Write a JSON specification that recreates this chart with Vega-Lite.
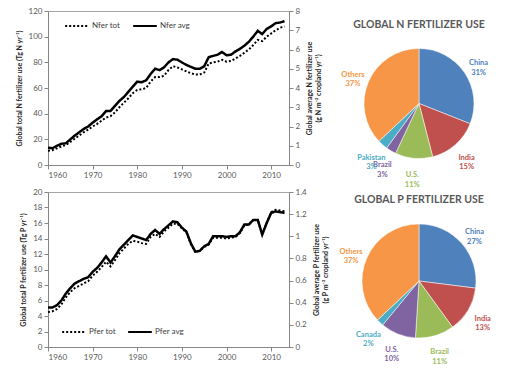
{
  "$schema": "https://vega.github.io/schema/vega-lite/v6.json",
  "padding": {"left": 14, "top": 6, "right": 0, "bottom": 0},
  "background": "white",
  "config": {
    "font": "Lato",
    "view": {"stroke": null},
    "axis": {"labelFont": "Lato", "labelFontSize": 8, "labelColor": "#595959", "titleFont": "Lato", "titleFontSize": 7, "titleFontWeight": "bold", "titleColor": "#262626", "domainColor": "#868686", "tickColor": "#868686", "tickSize": 4, "grid": false, "labelPadding": 2, "titleLineHeight": 9},
    "legend": {"labelFont": "Lato", "labelFontSize": 8, "labelColor": "#404040", "symbolType": "stroke", "symbolStrokeColor": "black", "symbolStrokeWidth": 2, "symbolSize": 560, "columnPadding": 8, "labelOffset": 2},
    "title": {"font": "Lato", "fontSize": 10.5, "fontWeight": "bold", "color": "#595959", "baseline": "bottom"}
  },
  "datasets": {
    "series": [
      {"year": 1960, "n_tot": 11, "n_avg": 0.90, "p_tot": 4.5, "p_avg": 0.357},
      {"year": 1961, "n_tot": 11.5, "n_avg": 0.87, "p_tot": 4.6, "p_avg": 0.357},
      {"year": 1962, "n_tot": 13, "n_avg": 1.00, "p_tot": 4.9, "p_avg": 0.378},
      {"year": 1963, "n_tot": 14.5, "n_avg": 1.10, "p_tot": 5.5, "p_avg": 0.42},
      {"year": 1964, "n_tot": 15.5, "n_avg": 1.13, "p_tot": 6.4, "p_avg": 0.483},
      {"year": 1965, "n_tot": 18, "n_avg": 1.33, "p_tot": 7.1, "p_avg": 0.532},
      {"year": 1966, "n_tot": 20.5, "n_avg": 1.53, "p_tot": 7.6, "p_avg": 0.574},
      {"year": 1967, "n_tot": 23, "n_avg": 1.70, "p_tot": 7.9, "p_avg": 0.595},
      {"year": 1968, "n_tot": 25.5, "n_avg": 1.87, "p_tot": 8.2, "p_avg": 0.616},
      {"year": 1969, "n_tot": 27.5, "n_avg": 2.00, "p_tot": 8.5, "p_avg": 0.63},
      {"year": 1970, "n_tot": 30, "n_avg": 2.20, "p_tot": 9.2, "p_avg": 0.679},
      {"year": 1971, "n_tot": 32, "n_avg": 2.37, "p_tot": 9.7, "p_avg": 0.714},
      {"year": 1972, "n_tot": 34.5, "n_avg": 2.53, "p_tot": 10.3, "p_avg": 0.763},
      {"year": 1973, "n_tot": 37, "n_avg": 2.80, "p_tot": 11.0, "p_avg": 0.819},
      {"year": 1974, "n_tot": 38, "n_avg": 2.80, "p_tot": 10.4, "p_avg": 0.763},
      {"year": 1975, "n_tot": 41, "n_avg": 3.07, "p_tot": 11.2, "p_avg": 0.819},
      {"year": 1976, "n_tot": 45, "n_avg": 3.33, "p_tot": 12.1, "p_avg": 0.882},
      {"year": 1977, "n_tot": 48.5, "n_avg": 3.53, "p_tot": 12.7, "p_avg": 0.924},
      {"year": 1978, "n_tot": 52, "n_avg": 3.80, "p_tot": 13.3, "p_avg": 0.966},
      {"year": 1979, "n_tot": 56, "n_avg": 4.07, "p_tot": 13.7, "p_avg": 1.008},
      {"year": 1980, "n_tot": 58.5, "n_avg": 4.33, "p_tot": 13.6, "p_avg": 0.994},
      {"year": 1981, "n_tot": 59, "n_avg": 4.30, "p_tot": 13.4, "p_avg": 0.98},
      {"year": 1982, "n_tot": 60, "n_avg": 4.40, "p_tot": 13.3, "p_avg": 0.966},
      {"year": 1983, "n_tot": 65, "n_avg": 4.73, "p_tot": 14.2, "p_avg": 1.022},
      {"year": 1984, "n_tot": 68.5, "n_avg": 5.00, "p_tot": 14.6, "p_avg": 1.057},
      {"year": 1985, "n_tot": 68.5, "n_avg": 4.93, "p_tot": 14.2, "p_avg": 1.022},
      {"year": 1986, "n_tot": 69.5, "n_avg": 5.07, "p_tot": 14.9, "p_avg": 1.064},
      {"year": 1987, "n_tot": 74, "n_avg": 5.33, "p_tot": 15.4, "p_avg": 1.099},
      {"year": 1988, "n_tot": 77, "n_avg": 5.50, "p_tot": 15.9, "p_avg": 1.134},
      {"year": 1989, "n_tot": 76, "n_avg": 5.47, "p_tot": 15.9, "p_avg": 1.127},
      {"year": 1990, "n_tot": 74.5, "n_avg": 5.33, "p_tot": 15.3, "p_avg": 1.078},
      {"year": 1991, "n_tot": 73, "n_avg": 5.20, "p_tot": 14.8, "p_avg": 1.043},
      {"year": 1992, "n_tot": 71.5, "n_avg": 5.10, "p_tot": 13.3, "p_avg": 0.938},
      {"year": 1993, "n_tot": 70.5, "n_avg": 5.00, "p_tot": 12.3, "p_avg": 0.861},
      {"year": 1994, "n_tot": 70.5, "n_avg": 5.00, "p_tot": 12.4, "p_avg": 0.868},
      {"year": 1995, "n_tot": 72, "n_avg": 5.13, "p_tot": 12.9, "p_avg": 0.91},
      {"year": 1996, "n_tot": 79, "n_avg": 5.60, "p_tot": 13.2, "p_avg": 0.931},
      {"year": 1997, "n_tot": 80, "n_avg": 5.67, "p_tot": 14.1, "p_avg": 1.001},
      {"year": 1998, "n_tot": 80.5, "n_avg": 5.73, "p_tot": 14.1, "p_avg": 1.001},
      {"year": 1999, "n_tot": 82, "n_avg": 5.87, "p_tot": 14.1, "p_avg": 1.001},
      {"year": 2000, "n_tot": 80.5, "n_avg": 5.70, "p_tot": 14.0, "p_avg": 0.994},
      {"year": 2001, "n_tot": 81, "n_avg": 5.73, "p_tot": 14.1, "p_avg": 1.001},
      {"year": 2002, "n_tot": 83, "n_avg": 5.90, "p_tot": 14.2, "p_avg": 1.001},
      {"year": 2003, "n_tot": 85, "n_avg": 6.03, "p_tot": 14.7, "p_avg": 1.036},
      {"year": 2004, "n_tot": 87.5, "n_avg": 6.20, "p_tot": 15.7, "p_avg": 1.106},
      {"year": 2005, "n_tot": 90, "n_avg": 6.40, "p_tot": 15.8, "p_avg": 1.106},
      {"year": 2006, "n_tot": 93.5, "n_avg": 6.67, "p_tot": 16.4, "p_avg": 1.148},
      {"year": 2007, "n_tot": 97.5, "n_avg": 6.97, "p_tot": 16.4, "p_avg": 1.148},
      {"year": 2008, "n_tot": 96.5, "n_avg": 6.80, "p_tot": 14.6, "p_avg": 1.015},
      {"year": 2009, "n_tot": 100, "n_avg": 7.07, "p_tot": 16.0, "p_avg": 1.12},
      {"year": 2010, "n_tot": 102.5, "n_avg": 7.20, "p_tot": 17.4, "p_avg": 1.211},
      {"year": 2011, "n_tot": 105, "n_avg": 7.37, "p_tot": 17.7, "p_avg": 1.225},
      {"year": 2012, "n_tot": 107, "n_avg": 7.40, "p_tot": 17.6, "p_avg": 1.218},
      {"year": 2013, "n_tot": 108, "n_avg": 7.47, "p_tot": 17.5, "p_avg": 1.211}
    ],
    "npie": [
      {"slot": 1, "country": "China", "pct": 31, "label": "China\n31%"},
      {"slot": 2, "country": "India", "pct": 15, "label": "India\n15%"},
      {"slot": 3, "country": "U.S.", "pct": 11, "label": "U.S.\n11%"},
      {"slot": 4, "country": "Brazil", "pct": 3, "label": "Brazil\n3%"},
      {"slot": 5, "country": "Pakistan", "pct": 3, "label": "Pakistan\n3%"},
      {"slot": 6, "country": "Others", "pct": 37, "label": "Others\n37%"}
    ],
    "ppie": [
      {"slot": 1, "country": "China", "pct": 27, "label": "China\n27%"},
      {"slot": 2, "country": "India", "pct": 13, "label": "India\n13%"},
      {"slot": 3, "country": "Brazil", "pct": 11, "label": "Brazil\n11%"},
      {"slot": 4, "country": "U.S.", "pct": 10, "label": "U.S.\n10%"},
      {"slot": 5, "country": "Canada", "pct": 2, "label": "Canada\n2%"},
      {"slot": 6, "country": "Others", "pct": 37, "label": "Others\n37%"}
    ]
  },
  "hconcat": [
    {
      "vconcat": [
        {
          "width": 241, "height": 154,
          "data": {"name": "series"},
          "view": {"stroke": "#a6a6a6"},
          "encoding": {"x": {"field": "year", "type": "quantitative", "scale": {"domain": [1960, 2014], "nice": false}, "axis": {"values": [1960, 1970, 1980, 1990, 2000, 2010], "format": "d", "title": null}}},
          "layer": [
            {"mark": {"type": "line", "color": "black", "strokeWidth": 2},
             "encoding": {
               "y": {"field": "n_tot", "type": "quantitative", "scale": {"domain": [0, 120], "nice": false}, "axis": {"values": [0, 20, 40, 60, 80, 100, 120], "title": "Global total N fertilizer use (Tg N yr⁻¹)", "titlePadding": 6}},
               "strokeDash": {"datum": "Nfer tot", "type": "nominal", "scale": {"domain": ["Nfer tot", "Nfer avg"], "range": [[2, 2], [1, 0]]}, "legend": {"title": null, "orient": "none", "legendX": 16, "legendY": 2, "direction": "horizontal"}}
             }},
            {"mark": {"type": "line", "color": "black", "strokeWidth": 2.5},
             "encoding": {
               "y": {"field": "n_avg", "type": "quantitative", "scale": {"domain": [0, 8], "nice": false}, "axis": {"orient": "right", "values": [0, 1, 2, 3, 4, 5, 6, 7, 8], "title": ["Global  average N fertilizer use", "(g N m⁻² cropland yr⁻¹)"], "titleAngle": -90, "titlePadding": 4}},
               "strokeDash": {"datum": "Nfer avg", "type": "nominal"}
             }}
          ],
          "resolve": {"scale": {"y": "independent"}}
        },
        {
          "width": 241, "height": 155,
          "data": {"name": "series"},
          "view": {"stroke": "#a6a6a6"},
          "encoding": {"x": {"field": "year", "type": "quantitative", "scale": {"domain": [1960, 2014], "nice": false}, "axis": {"values": [1960, 1970, 1980, 1990, 2000, 2010], "format": "d", "title": null}}},
          "layer": [
            {"mark": {"type": "line", "color": "black", "strokeWidth": 2},
             "encoding": {
               "y": {"field": "p_tot", "type": "quantitative", "scale": {"domain": [0, 20], "nice": false}, "axis": {"values": [0, 2, 4, 6, 8, 10, 12, 14, 16, 18, 20], "title": "Global total P fertilizer use (Tg P yr⁻¹)", "titlePadding": 6}},
               "strokeDash": {"datum": "Pfer tot", "type": "nominal", "scale": {"domain": ["Pfer tot", "Pfer avg"], "range": [[2, 2], [1, 0]]}, "legend": {"title": null, "orient": "none", "legendX": 13, "legendY": 127, "direction": "horizontal"}}
             }},
            {"mark": {"type": "line", "color": "black", "strokeWidth": 2.5},
             "encoding": {
               "y": {"field": "p_avg", "type": "quantitative", "scale": {"domain": [0, 1.4], "nice": false}, "axis": {"orient": "right", "values": [0, 0.2, 0.4, 0.6, 0.8, 1, 1.2, 1.4], "format": "~g", "title": ["Global average P fertilizer use", "(g P m⁻² cropland yr⁻¹)"], "titleAngle": -90, "titlePadding": 4}},
               "strokeDash": {"datum": "Pfer avg", "type": "nominal"}
             }}
          ],
          "resolve": {"scale": {"y": "independent"}}
        }
      ],
      "spacing": 27,
      "bounds": "flush",
      "resolve": {"scale": {"strokeDash": "independent"}, "legend": {"strokeDash": "independent"}}
    },
    {
      "vconcat": [
        {
          "width": 178, "height": 185,
          "data": {"name": "npie"},
          "title": {"text": "GLOBAL N FERTILIZER USE", "offset": -19},
          "encoding": {
            "theta": {"field": "pct", "type": "quantitative", "stack": true},
            "order": {"field": "slot", "type": "quantitative"},
            "color": {"field": "slot", "type": "nominal", "scale": {"domain": [1, 2, 3, 4, 5, 6], "range": ["#4F81BD", "#C0504D", "#9BBB59", "#8064A2", "#4BACC6", "#F79646"]}, "legend": null}
          },
          "layer": [
            {"mark": {"type": "arc", "outerRadius": 55, "stroke": "white", "strokeWidth": 0.5}},
            {"mark": {"type": "text", "radius": 72, "fontWeight": "bold", "fontSize": 7.5, "lineBreak": "\n", "baseline": "middle"}, "encoding": {"text": {"field": "label"}}}
          ]
        },
        {
          "width": 178, "height": 142,
          "data": {"name": "ppie"},
          "title": {"text": "GLOBAL P FERTILIZER USE", "offset": 5},
          "encoding": {
            "theta": {"field": "pct", "type": "quantitative", "stack": true},
            "order": {"field": "slot", "type": "quantitative"},
            "color": {"field": "slot", "type": "nominal", "scale": {"domain": [1, 2, 3, 4, 5, 6], "range": ["#4F81BD", "#C0504D", "#9BBB59", "#8064A2", "#4BACC6", "#F79646"]}, "legend": null}
          },
          "layer": [
            {"mark": {"type": "arc", "outerRadius": 57, "stroke": "white", "strokeWidth": 0.5}},
            {"mark": {"type": "text", "radius": 74, "fontWeight": "bold", "fontSize": 7.5, "lineBreak": "\n", "baseline": "middle"}, "encoding": {"text": {"field": "label"}}}
          ]
        }
      ],
      "spacing": 14,
      "bounds": "flush"
    }
  ],
  "spacing": 1,
  "resolve": {"scale": {"strokeDash": "independent"}, "legend": {"strokeDash": "independent"}}
}
